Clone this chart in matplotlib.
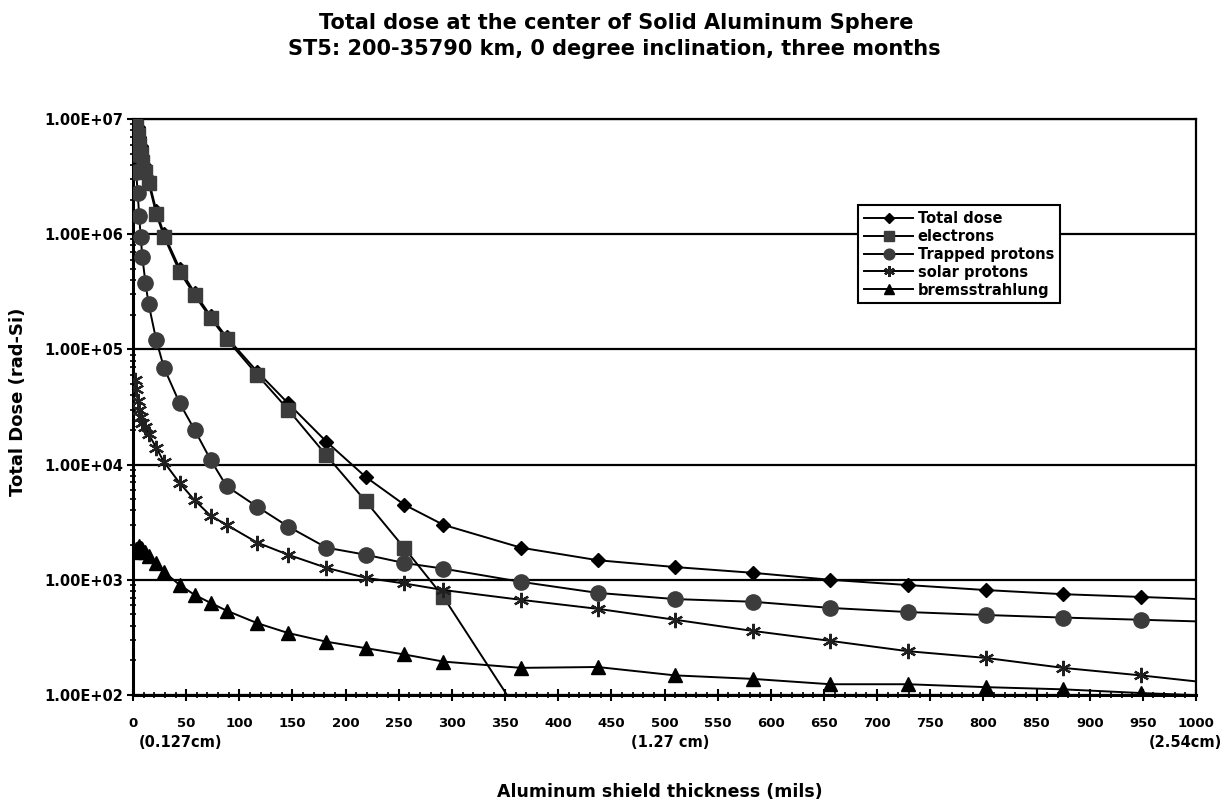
import numpy as np
import matplotlib
matplotlib.use("Agg")
import matplotlib.pyplot as plt
from matplotlib.ticker import FixedLocator, FuncFormatter, LogLocator, NullFormatter, MultipleLocator
import matplotlib.transforms as mtransforms

plt.rcParams['font.family'] = ['DejaVu Sans']

# Aluminum shield thickness (mils)
thickness = [1.5, 2.9, 4.4, 5.8, 7.3, 8.8, 11.7, 14.6, 21.9, 29.2, 44, 58, 73, 88, 117, 146,
             182, 219, 255, 292, 365, 437, 510, 583, 656, 729, 802, 875, 948, 1021]

total_dose = [1.0e7, 9.5e6, 8.5e6, 7.0e6, 5.8e6, 4.8e6, 3.9e6, 3.0e6, 1.6e6, 1.0e6, 5.0e5, 3.1e5,
              1.95e5, 1.28e5, 6.4e4, 3.4e4, 1.58e4, 7.8e3, 4.5e3, 3.0e3, 1.9e3, 1.48e3, 1.29e3,
              1.15e3, 1.0e3, 900, 815, 750, 710, 670]

electrons = [9.5e6, 8.5e6, 7.2e6, 6.0e6, 5.0e6, 4.2e6, 3.5e6, 2.8e6, 1.5e6, 9.5e5, 4.7e5, 2.95e5,
             1.87e5, 1.23e5, 6.0e4, 3.0e4, 1.2e4, 4.8e3, 1.9e3, 710, 65, np.nan, np.nan,
             np.nan, np.nan, np.nan, np.nan, np.nan, np.nan, np.nan]

trapped_protons = [5.0e6, 3.5e6, 2.3e6, 1.45e6, 9.4e5, 6.3e5, 3.8e5, 2.5e5, 1.2e5, 6.9e4, 3.4e4,
                   2.0e4, 1.1e4, 6.5e3, 4.3e3, 2.9e3, 1.9e3, 1.65e3, 1.4e3, 1.25e3, 960, 770,
                   680, 645, 570, 525, 495, 470, 450, 430]

solar_protons = [5.4e4, 4.5e4, 3.6e4, 3.0e4, 2.6e4, 2.3e4, 2.1e4, 1.85e4, 1.4e4, 1.05e4, 6.9e3,
                 4.9e3, 3.6e3, 3.0e3, 2.1e3, 1.65e3, 1.27e3, 1.04e3, 930, 815, 670, 560, 450,
                 360, 295, 240, 210, 172, 148, 125]

bremsstrahlung = [1.75e3, 1.85e3, 1.9e3, 1.95e3, 1.9e3, 1.85e3, 1.75e3, 1.6e3, 1.4e3, 1.17e3,
                  900, 740, 630, 540, 420, 345, 290, 255, 225, 195, 172, 175, 148, 138, 124,
                  124, 117, 112, 104, 98]

series_labels = ["Total dose", "electrons", "Trapped protons", "solar protons", "bremsstrahlung"]
x_ticks = list(range(0, 1001, 50))
y_ticks = [1e2, 1e3, 1e4, 1e5, 1e6, 1e7]
cm_labels = [(45, "(0.127cm)"), (505, "(1.27 cm)")]

W, H = 1225, 805
fig = plt.figure(figsize=(W / 100, H / 100), dpi=100)
ax = fig.add_axes([133 / W, 1 - 695 / H, (1196 - 133) / W, (695 - 119) / H])

ax.set_yscale('log')
ax.set_xlim(0, 1000)
ax.set_ylim(1e2, 1e7)

for yv in y_ticks:
    ax.axhline(yv, color='black', lw=1.6, zorder=1)

style = dict(color='black', lw=1.4, clip_on=True, zorder=3)
ax.plot(thickness, total_dose, marker='D', ms=7, mfc='black', mec='black', label=series_labels[0], **style)
ax.plot(thickness, electrons, marker='s', ms=10, mfc='#3c3c3c', mec='#3c3c3c', label=series_labels[1], **style)
ax.plot(thickness, trapped_protons, marker='o', ms=11, mfc='#3c3c3c', mec='#3c3c3c', label=series_labels[2], **style)
ax.plot(thickness, solar_protons, marker=(6, 2, 0), ms=11, mew=1.6, mfc='black', mec='#202020', label=series_labels[3], **style)
ax.plot(thickness, bremsstrahlung, marker='^', ms=10, mfc='black', mec='black', label=series_labels[4], **style)

for s in ['left', 'bottom']:
    ax.spines[s].set_linewidth(2.2)
for s in ['right', 'top']:
    ax.spines[s].set_linewidth(1.6)

ax.xaxis.set_major_locator(FixedLocator(x_ticks))
ax.xaxis.set_minor_locator(MultipleLocator(10))
ax.yaxis.set_major_locator(FixedLocator(y_ticks))
ax.yaxis.set_minor_locator(LogLocator(base=10, subs=np.arange(2, 10)))
ax.yaxis.set_minor_formatter(NullFormatter())
ax.yaxis.set_major_formatter(FuncFormatter(lambda v, p: f"{v:.2E}"))

ax.tick_params(axis='x', which='major', direction='inout', length=9, width=1.5, pad=11, labelsize=9.5)
ax.tick_params(axis='x', which='minor', direction='inout', length=4, width=1.2)
ax.tick_params(axis='y', which='major', direction='out', length=4, width=1.5, pad=3, labelsize=10.5)
ax.tick_params(axis='y', which='minor', direction='inout', length=4, width=1.2)
for lab in ax.get_xticklabels() + ax.get_yticklabels():
    lab.set_fontweight('bold')

trans = mtransforms.blended_transform_factory(ax.transData, ax.transAxes)
for xv, txt in cm_labels:
    ax.text(xv, -0.083, txt, transform=trans, ha='center', va='center', fontsize=10.5, fontweight='bold')
ax.text(1.0 + 26 / 1063, -0.083, "(2.54cm)", transform=ax.transAxes, ha='right', va='center',
        fontsize=10.5, fontweight='bold')

fig.text(660 / W, 1 - 792 / H, "Aluminum shield thickness (mils)", ha='center', va='center',
         fontsize=12.5, fontweight='bold')
fig.text(18 / W, 1 - 402 / H, "Total Dose (rad-Si)", ha='center', va='center', rotation=90,
         fontsize=13, fontweight='bold')
fig.text(616 / W, 1 - 23 / H, "Total dose at the center of Solid Aluminum Sphere", ha='center',
         va='center', fontsize=15, fontweight='bold')
fig.text(614 / W, 1 - 49 / H, "ST5: 200-35790 km, 0 degree inclination, three months", ha='center',
         va='center', fontsize=15, fontweight='bold')

leg = ax.legend(loc='upper left', bbox_to_anchor=((858 - 133) / 1063, (695 - 205) / 576),
                frameon=True, fancybox=False, edgecolor='black', framealpha=1, fontsize=10.5,
                handlelength=3.4, borderpad=0.4, labelspacing=0.2, handletextpad=0.3,
                markerscale=0.7, borderaxespad=0)
leg.get_frame().set_linewidth(1.5)
leg.set_zorder(5)
for t in leg.get_texts():
    t.set_fontweight('bold')

fig.savefig("out.png", dpi=100)
